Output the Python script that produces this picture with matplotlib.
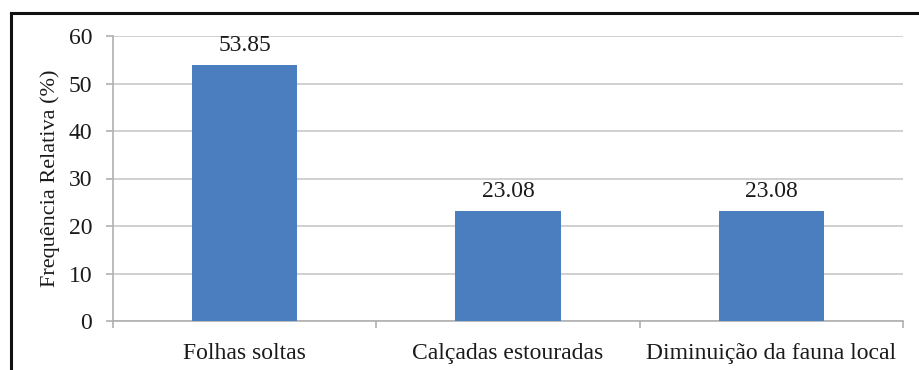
import matplotlib
matplotlib.use('Agg')
import matplotlib.pyplot as plt
from matplotlib.lines import Line2D

# dados do gráfico
categorias = ['Folhas soltas', 'Calçadas estouradas', 'Diminuição da fauna local']
valores = [53.85, 23.08, 23.08]
yticks = [0, 10, 20, 30, 40, 50, 60]

plt.rcParams['font.family'] = ['Liberation Serif', 'DejaVu Serif']

fig = plt.figure(figsize=(9.19, 3.70), dpi=100)
ax = fig.add_axes([113 / 919, 1 - 321 / 370, 790 / 919, 285 / 370])

cor = '#4a7ebf'
x = range(len(categorias))
bars = ax.bar(x, valores, width=0.4, color=cor, zorder=3)

for b, v in zip(bars, valores):
    ax.text(b.get_x() + b.get_width() / 2, v + 2.0, f'{v:.2f}',
            ha='center', va='bottom', fontsize=17, color='#1a1a1a')

ax.set_xlim(-0.5, len(categorias) - 0.5)
ax.set_ylim(0, 60)
ax.set_yticks(yticks)
ax.set_yticklabels([str(t) for t in yticks], fontsize=17, color='#1a1a1a')
ax.yaxis.grid(True, color='#c8c8c8', linewidth=1.2, zorder=0)
ax.set_axisbelow(True)

# rótulos do eixo x entre marcas de divisão
ax.set_xticks([-0.5, 0.5, 1.5, 2.5])
ax.set_xticklabels([])
ax.set_xticks(list(x), minor=True)
ax.set_xticklabels(categorias, minor=True, fontsize=17, color='#1a1a1a')
ax.tick_params(axis='x', which='minor', length=0, pad=16)
ax.tick_params(axis='x', which='major', length=5, color='#b0b0b0', width=1.2)
ax.tick_params(axis='y', length=5, color='#b0b0b0', width=1.2, pad=10)

for s in ['top', 'right']:
    ax.spines[s].set_visible(False)
for s in ['left', 'bottom']:
    ax.spines[s].set_color('#b0b0b0')
    ax.spines[s].set_linewidth(1.2)

ax.set_ylabel('Frequência Relativa (%)', fontsize=16, color='#1a1a1a', labelpad=6)

# moldura preta (esquerda e topo)
fig.add_artist(Line2D([10.5 / 919, 10.5 / 919], [0, 1 - 12.5 / 370], color='#111111', lw=2.2,
                      transform=fig.transFigure))
fig.add_artist(Line2D([10.5 / 919, 1], [1 - 12.5 / 370, 1 - 12.5 / 370], color='#111111', lw=2.2,
                      transform=fig.transFigure))

fig.savefig('out.png', dpi=100)
